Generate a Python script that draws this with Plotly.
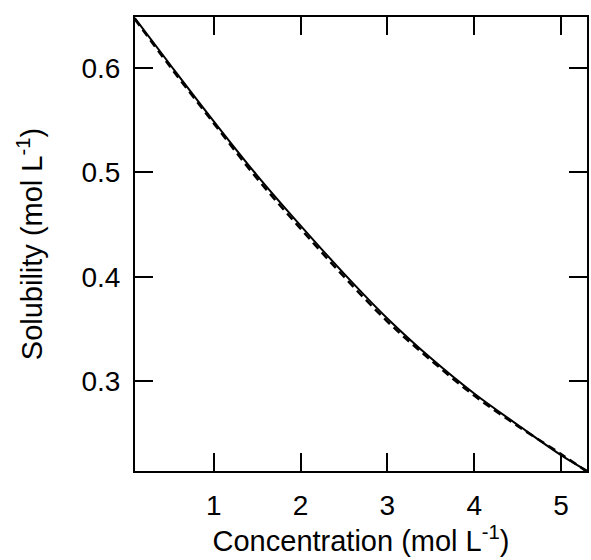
import plotly.graph_objects as go

# Data
conc = [0.09, 0.5, 1.0, 1.5, 2.0, 2.5, 3.0, 3.5, 4.0, 4.5, 5.0, 5.3]
sol_solid = [0.648, 0.603, 0.549, 0.497, 0.449, 0.403, 0.360, 0.322, 0.288, 0.258, 0.229, 0.214]
sol_dashed = [0.647, 0.601, 0.547, 0.494, 0.446, 0.400, 0.357, 0.320, 0.286, 0.257, 0.230, 0.213]

x_ticks = [1, 2, 3, 4, 5]
y_ticks = [0.3, 0.4, 0.5, 0.6]

FONT = "Liberation Sans, Arial, sans-serif"
TICK_SIZE = 28
TITLE_SIZE = 29

fig = go.Figure()
fig.add_trace(go.Scatter(x=conc, y=sol_dashed, mode="lines",
                         line=dict(color="black", width=2.5, dash="8px,5px", shape="spline"),
                         showlegend=False))
fig.add_trace(go.Scatter(x=conc, y=sol_solid, mode="lines",
                         line=dict(color="black", width=2, shape="spline"),
                         showlegend=False))

axis_common = dict(showline=True, linecolor="black", linewidth=2, mirror="ticks",
                   ticks="inside", ticklen=18, tickwidth=2, tickcolor="black",
                   showgrid=False, zeroline=False,
                   tickfont=dict(family=FONT, size=TICK_SIZE, color="black"))

fig.update_xaxes(range=[0.092, 5.30], tickvals=x_ticks, ticktext=[str(v) for v in x_ticks],
                 ticklabelstandoff=8,
                 title=dict(text="Concentration (mol L<sup>-1</sup>)",
                            font=dict(family=FONT, size=TITLE_SIZE, color="black"), standoff=6),
                 **axis_common)
fig.update_yaxes(range=[0.2137, 0.649], tickvals=y_ticks, ticktext=[f"{v:.1f}" for v in y_ticks],
                 ticklabelstandoff=7,
                 title=dict(text="Solubility (mol L<sup>-1</sup>)",
                            font=dict(family=FONT, size=TITLE_SIZE, color="black"), standoff=30),
                 **axis_common)

fig.update_layout(width=591, height=560, margin=dict(l=135, r=2, t=17, b=89),
                  paper_bgcolor="white", plot_bgcolor="white",
                  font=dict(family=FONT, color="black"))

fig.write_html("out.html")
